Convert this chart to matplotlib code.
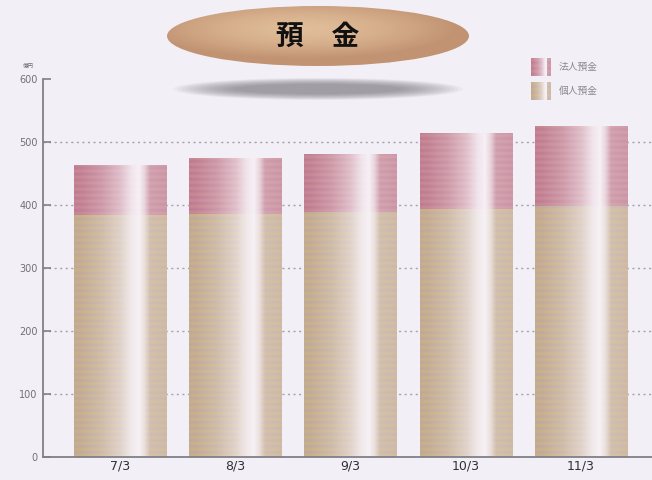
import numpy as np
import matplotlib
matplotlib.use("Agg")
import matplotlib.pyplot as plt
from matplotlib.patches import Ellipse

plt.rcParams['font.family'] = ['Noto Sans CJK JP', 'DejaVu Sans']

# Deposits (億円) at each fiscal year end
periods = ["7/3", "8/3", "9/3", "10/3", "11/3"]
individual = [384, 386, 389, 393, 398]      # 個人預金
corporate = [78, 88, 92, 120, 126]          # 法人預金
series_labels = ["法人預金", "個人預金"]
yticks = [0, 100, 200, 300, 400, 500, 600]

BG = "#F2F0F6"
W, H = 652, 480
fig = plt.figure(figsize=(W / 100, H / 100), dpi=100, facecolor=BG)

ax = fig.add_axes([43 / W, (H - 457) / H, 1 - 43 / W, (457 - 79) / H])
ax.set_facecolor("none")
x = np.arange(len(periods))

# horizontal dotted guide lines
for v in yticks[1:-1]:
    ax.axhline(v, color="#a4a2aa", lw=1.0, ls=(0, (1.5, 2.5)), zorder=0)

# cylinder-like horizontal shading profile
prof_t = [0, 0.08, 0.3, 0.5, 0.62, 0.7, 0.76, 0.82, 1.0]
prof_d = [0.95, 0.92, 0.72, 0.42, 0.12, 0.02, 0.25, 0.68, 0.75]


def shaded(height_units, col_a, col_b, period=9.5):
    nx = 200
    ny = max(int(height_units * 2), 4)
    t = np.linspace(0, 1, nx)
    d = np.interp(t, prof_t, prof_d)[None, :, None]
    yy = np.linspace(0, height_units, ny)
    s = (0.5 + 0.5 * np.sin(2 * np.pi * yy / period))[:, None, None]
    ca = np.array(col_a, float) / 255
    cb = np.array(col_b, float) / 255
    c = ca * s + cb * (1 - s)
    white = np.array([0.97, 0.95, 0.97])
    return white + (c - white) * d


ind_a, ind_b = (200, 172, 126), (186, 164, 152)
cor_a, cor_b = (198, 130, 140), (186, 116, 142)

bars_ind = ax.bar(x, individual, width=0.8, color="none", zorder=2)
bars_cor = ax.bar(x, corporate, width=0.8, bottom=individual, color="none", zorder=2)
for patches, ca, cb in ((bars_ind, ind_a, ind_b), (bars_cor, cor_a, cor_b)):
    for p in patches:
        x0, y0 = p.get_x(), p.get_y()
        w, h = p.get_width(), p.get_height()
        img = shaded(h, ca, cb)
        ax.imshow(img, extent=[x0, x0 + w, y0, y0 + h], origin="lower",
                  aspect="auto", interpolation="bilinear", zorder=2)
ax.set_xlim(-0.668, 4.616)
ax.set_ylim(0, 600)

for s in ("top", "right"):
    ax.spines[s].set_visible(False)
for s in ("left", "bottom"):
    ax.spines[s].set_color("#808088")
    ax.spines[s].set_linewidth(1.3)
ax.set_yticks(yticks)
ax.set_yticklabels([str(v) for v in yticks], fontsize=7, color="#707078",
                   family=["DejaVu Sans"])
ax.tick_params(axis="y", direction="in", length=6, width=1.2, color="#808088", pad=4)
ax.set_xticks(x)
ax.set_xticklabels(periods, fontsize=9, color="#303038", family=["DejaVu Sans"])
ax.tick_params(axis="x", length=0, pad=2)

# overlay in pixel coordinates for title badge, unit and legend
ov = fig.add_axes([0, 0, 1, 1], zorder=5)
ov.axis("off")
ov.patch.set_alpha(0)

# soft shadow below the badge
for i in range(16):
    f = 1 - i / 16
    ov.add_patch(Ellipse((318, 89), 290 * (0.55 + 0.45 * f), 22 * (0.4 + 0.6 * f),
                         color="#6a6670", alpha=0.05, lw=0))

# badge ellipse with radial shading
gx, gy = np.meshgrid(np.linspace(-1, 1, 300), np.linspace(-1, 1, 60))
r = np.sqrt((gx + 0.1) ** 2 + (gy + 0.25) ** 2)
c_in = np.array([0.88, 0.74, 0.60])
c_out = np.array([0.76, 0.58, 0.45])
k = np.clip(r, 0, 1)[..., None] ** 1.6
badge = c_in * (1 - k) + c_out * k
ell = Ellipse((318, 36), 302, 60, facecolor="none", lw=0)
ov.add_patch(ell)
im = ov.imshow(np.clip(badge, 0, 1), extent=[167, 469, 66, 6], aspect="auto",
               interpolation="bilinear")
im.set_clip_path(ell)
ov.text(318, 37, "預　金", fontsize=20, fontweight="bold", color="#111111",
        ha="center", va="center")

ov.text(28, 66, "億円", fontsize=4, color="#707078", ha="center", va="center")

# legend
legend_cols = [(cor_a, cor_b), (ind_a, ind_b)]
for i, (lab, (ca, cb)) in enumerate(zip(series_labels, legend_cols)):
    yc = 67 + i * 24
    sw = shaded(18, ca, cb, period=6)
    ov.imshow(sw[:, :130], extent=[531, 545, yc + 9, yc - 9], aspect="auto",
              interpolation="bilinear")
    ov.imshow(sw[:, 165:], extent=[547, 551, yc + 9, yc - 9], aspect="auto",
              interpolation="bilinear")
    ov.text(559, yc, lab, fontsize=7, color="#8a8890", ha="left", va="center")
ov.set_xlim(0, W)
ov.set_ylim(H, 0)

fig.savefig("out.png", dpi=100, facecolor=BG)
